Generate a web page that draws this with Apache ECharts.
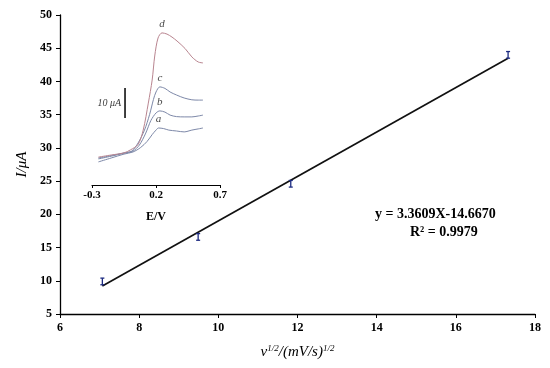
<!DOCTYPE html>
<html><head><meta charset="utf-8">
<script src="https://cdn.jsdelivr.net/npm/echarts@6/dist/echarts.min.js"></script>
<style>html,body{margin:0;padding:0;background:#fff}#c{width:550px;height:368px}</style>
</head><body><div id="c"></div>
<script>
// main plot data
const sqrtScanRate = [7.07, 9.49, 11.83, 17.32];
const peakCurrent = [9.9, 16.6, 24.6, 44.0];
const currentErr = [0.5, 0.5, 0.5, 0.5];
const fitLine = [[7.07, 9.2], [17.32, 43.5]];
const xTicks = [6, 8, 10, 12, 14, 16, 18];
const yTicks = [5, 10, 15, 20, 25, 30, 35, 40, 45, 50];
// inset voltammograms (E/V, relative current µA)
const curveA = [[-0.25,7.7],[-0.15,9.0],[-0.05,10.3],[0.02,11.0],[0.08,12.5],[0.13,14.5],[0.17,16.8],[0.2,18.3],[0.22,19.0],[0.26,18.8],[0.3,18.3],[0.36,18.0],[0.42,17.7],[0.48,18.3],[0.53,18.7],[0.567,19.0]];
const curveB = [[-0.25,8.7],[-0.15,9.6],[-0.05,10.6],[0.02,11.3],[0.07,13.3],[0.12,17.3],[0.16,21.5],[0.2,24.0],[0.23,24.7],[0.27,24.3],[0.31,23.3],[0.36,22.8],[0.42,22.7],[0.48,22.7],[0.53,23.0],[0.567,23.3]];
const curveC = [[-0.25,9.0],[-0.15,9.8],[-0.05,10.7],[0.01,11.3],[0.06,14.0],[0.11,18.3],[0.15,23.5],[0.18,28.5],[0.2,31.0],[0.23,32.7],[0.27,32.2],[0.31,31.0],[0.36,30.0],[0.42,29.0],[0.48,28.4],[0.53,28.3],[0.567,28.3]];
const curveD = [[-0.25,9.3],[-0.15,10.0],[-0.05,10.7],[0.0,11.7],[0.06,13.5],[0.1,18.3],[0.14,27.3],[0.17,35.0],[0.19,43.0],[0.216,49.0],[0.247,50.7],[0.286,50.3],[0.325,49.3],[0.364,48.0],[0.427,45.5],[0.48,42.7],[0.53,41.0],[0.567,40.7]];
const curveNames = ['a', 'b', 'c', 'd'];
const scaleBar = [[-0.042, 22.3], [-0.042, 32.3]];
const scaleBarLabel = '10 μA';
const insetTicks = [-0.3, 0.2, 0.7];

const serif = '"Liberation Serif","Times New Roman",serif';
const chart = echarts.init(document.getElementById('c'));

const curves = [curveA, curveB, curveC, curveD];
const curveColors = ['#7d88a8', '#7d88a8', '#7d88a8', '#b98590'];
function peakOf(data) {
  let idx = 0;
  data.forEach((p, i) => { if (p[1] > data[idx][1]) idx = i; });
  return data[idx];
}
const lblStyle = {fontFamily: serif, fontStyle: 'italic', fontSize: 11, color: '#111'};

chart.setOption({
  animation: false,
  backgroundColor: '#fff',
  grid: [
    {left: 60, right: 15, top: 15, bottom: 54},
    {left: 92, width: 128, top: 25, height: 160}
  ],
  xAxis: [
    {gridIndex: 0, type: 'value', min: xTicks[0], max: xTicks[xTicks.length-1], interval: 2,
     axisLine: {lineStyle: {color: '#000', width: 1.3}}, axisTick: {length: 4, lineStyle: {color: '#000'}},
     splitLine: {show: false},
     axisLabel: {fontFamily: serif, fontWeight: 'bold', fontSize: 12, color: '#000', margin: 8},
     name: '{i|v}{s|1/2}{i|/(mV/s)}{s|1/2}', nameLocation: 'middle', nameGap: 30,
     nameTextStyle: {rich: {i: {fontFamily: serif, fontStyle: 'italic', fontSize: 15, color: '#000'}, s: {fontFamily: serif, fontStyle: 'italic', fontSize: 9, color: '#000', verticalAlign: 'top', padding: [0,0,8,0]}}}},
    {gridIndex: 1, type: 'value', min: insetTicks[0], max: insetTicks[2], interval: 0.5,
     axisLine: {lineStyle: {color: '#000', width: 1.2}}, axisTick: {length: 3, lineStyle: {color: '#000'}},
     splitLine: {show: false},
     axisLabel: {fontFamily: serif, fontWeight: 'bold', fontSize: 11, color: '#000', margin: 5},
     name: 'E/V', nameLocation: 'middle', nameGap: 26,
     nameTextStyle: {fontFamily: serif, fontWeight: 'bold', fontSize: 12, color: '#000'}}
  ],
  yAxis: [
    {gridIndex: 0, type: 'value', min: yTicks[0], max: yTicks[yTicks.length-1], interval: 5,
     axisLine: {show: true, lineStyle: {color: '#000', width: 1.3}}, axisTick: {show: true, length: 4, lineStyle: {color: '#000'}},
     splitLine: {show: false},
     axisLabel: {fontFamily: serif, fontWeight: 'bold', fontSize: 12, color: '#000', margin: 8},
     name: 'I/μA', nameLocation: 'middle', nameGap: 30,
     nameTextStyle: {fontFamily: serif, fontStyle: 'italic', fontSize: 15, color: '#000'}},
    {gridIndex: 1, type: 'value', min: 0, max: 53.33, show: false}
  ],
  graphic: [
    {type: 'text', left: 375, top: 207, style: {text: 'y = 3.3609X-14.6670', font: 'bold 14px ' + serif, fill: '#000'}},
    {type: 'text', left: 410, top: 225, style: {text: 'R² = 0.9979', font: 'bold 14px ' + serif, fill: '#000'}}
  ],
  series: [
    {type: 'line', xAxisIndex: 0, yAxisIndex: 0, data: fitLine, symbol: 'none', lineStyle: {color: '#111', width: 1.7}, z: 2},
    {type: 'custom', xAxisIndex: 0, yAxisIndex: 0, z: 3,
     data: sqrtScanRate.map((x, i) => [x, peakCurrent[i], currentErr[i]]),
     renderItem: function (params, api) {
       const x = api.value(0), y = api.value(1), e = api.value(2);
       const hi = api.coord([x, y + e]), lo = api.coord([x, y - e]);
       const w = 2;
       const st = {stroke: '#1c2a80', lineWidth: 1.3};
       return {type: 'group', children: [
         {type: 'line', shape: {x1: hi[0], y1: hi[1], x2: lo[0], y2: lo[1]}, style: st},
         {type: 'line', shape: {x1: hi[0]-w, y1: hi[1], x2: hi[0]+w, y2: hi[1]}, style: st},
         {type: 'line', shape: {x1: lo[0]-w, y1: lo[1], x2: lo[0]+w, y2: lo[1]}, style: st}
       ]};
     }},
    ...curves.map((c, k) => ({type: 'line', xAxisIndex: 1, yAxisIndex: 1, data: c, symbol: 'none', smooth: 0.3, lineStyle: {color: curveColors[k], width: 1}})),
    {type: 'scatter', xAxisIndex: 1, yAxisIndex: 1, symbolSize: 0, silent: true,
     data: curves.map((c, k) => ({value: peakOf(c), name: curveNames[k]})),
     label: Object.assign({show: true, position: 'top', distance: 3, formatter: '{b}'}, lblStyle)},
    {type: 'line', xAxisIndex: 1, yAxisIndex: 1, data: scaleBar, symbol: 'none', lineStyle: {color: '#000', width: 1.5}},
    {type: 'scatter', xAxisIndex: 1, yAxisIndex: 1, symbolSize: 0, silent: true,
     data: [{value: [scaleBar[0][0], (scaleBar[0][1] + scaleBar[1][1]) / 2], name: scaleBarLabel}],
     label: Object.assign({show: true, position: 'left', distance: 4, formatter: '{b}'}, lblStyle, {fontSize: 10, color: '#000'})}
  ]
});
</script></body></html>
